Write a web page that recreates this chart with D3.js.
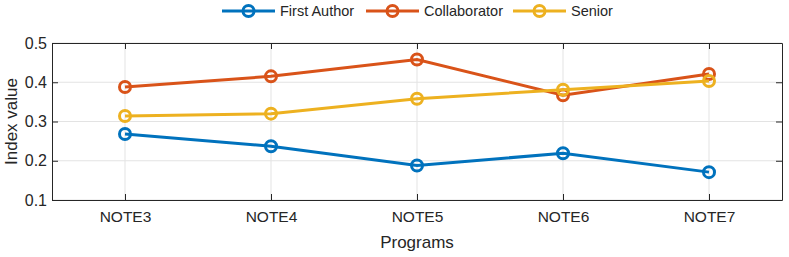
<!DOCTYPE html>
<html lang="en">
<head>
<meta charset="utf-8">
<title>Index value by program</title>
<script src="https://cdn.jsdelivr.net/npm/d3@7"></script>
<style>
  body { margin: 0; background: #fff; }
  text { font-family: "Liberation Sans", Arial, sans-serif; fill: #262626; }
</style>
</head>
<body>
<script>
// data
var programs = ["NOTE3", "NOTE4", "NOTE5", "NOTE6", "NOTE7"];
var firstAuthor = [0.268, 0.237, 0.188, 0.219, 0.171];
var collaborator = [0.388, 0.415, 0.458, 0.367, 0.421];
var senior = [0.314, 0.320, 0.358, 0.381, 0.403];
var seriesNames = ["First Author", "Collaborator", "Senior"];
var seriesColors = ["#0072BD", "#D95319", "#EDB120"];
var yTicks = [0.1, 0.2, 0.3, 0.4, 0.5];

var w = 789, h = 257;
var plotLeft = 52, plotRight = 782, plotTop = 43, plotBottom = 200;

var svg = d3.select("body").append("svg")
    .attr("width", w)
    .attr("height", h);

var xScale = d3.scaleLinear().domain([0.5, programs.length + 0.5]).range([plotLeft, plotRight]);
var yScale = d3.scaleLinear().domain([0.1, 0.5]).range([plotBottom, plotTop]);

// grid
svg.append("g").selectAll("line")
    .data(programs)
    .enter().append("line")
    .attr("x1", function(d, i) { return xScale(i + 1); })
    .attr("x2", function(d, i) { return xScale(i + 1); })
    .attr("y1", plotTop).attr("y2", plotBottom)
    .attr("stroke", "#e3e3e3").attr("stroke-width", 1);

svg.append("g").selectAll("line")
    .data(yTicks)
    .enter().append("line")
    .attr("x1", plotLeft).attr("x2", plotRight)
    .attr("y1", function(d) { return yScale(d); })
    .attr("y2", function(d) { return yScale(d); })
    .attr("stroke", "#e3e3e3").attr("stroke-width", 1);

// axes (ticks point inwards, box on all four sides)
var xAxis = d3.axisBottom(xScale)
    .tickValues([1, 2, 3, 4, 5])
    .tickFormat(function(d) { return programs[d - 1]; })
    .tickSizeInner(-6).tickSizeOuter(0).tickPadding(11);
var xAxisTop = d3.axisTop(xScale)
    .tickValues([1, 2, 3, 4, 5])
    .tickFormat("").tickSizeInner(-6).tickSizeOuter(0);
var yAxis = d3.axisLeft(yScale)
    .tickValues(yTicks)
    .tickFormat(d3.format(".1f"))
    .tickSizeInner(-6).tickSizeOuter(0).tickPadding(5);
var yAxisRight = d3.axisRight(yScale)
    .tickValues(yTicks)
    .tickFormat("").tickSizeInner(-6).tickSizeOuter(0);

function styleAxis(size) {
    return function(g) {
        g.select(".domain").attr("stroke", "#262626");
        g.selectAll(".tick line").attr("stroke", "#262626");
        g.selectAll(".tick text").attr("font-size", size).attr("fill", "#262626")
            .attr("font-family", "Liberation Sans, Arial, sans-serif");
    };
}

svg.append("g").attr("transform", "translate(0," + plotBottom + ")").call(xAxis).call(styleAxis("15.5px"));
svg.append("g").attr("transform", "translate(0," + plotTop + ")").call(xAxisTop).call(styleAxis("15.5px"));
svg.append("g").attr("transform", "translate(" + plotLeft + ",0)").call(yAxis).call(styleAxis("16px"));
svg.append("g").attr("transform", "translate(" + plotRight + ",0)").call(yAxisRight).call(styleAxis("16px"));

// axis labels
svg.append("text")
    .attr("x", (plotLeft + plotRight) / 2).attr("y", 248)
    .attr("text-anchor", "middle").attr("font-size", "17px")
    .text("Programs");
svg.append("text")
    .attr("transform", "translate(17," + ((plotTop + plotBottom) / 2) + ") rotate(-90)")
    .attr("text-anchor", "middle").attr("font-size", "17px")
    .text("Index value");

// lines
var allSeries = [firstAuthor, collaborator, senior];
var line = d3.line()
    .x(function(d, i) { return xScale(i + 1); })
    .y(function(d) { return yScale(d); });

allSeries.forEach(function(vals, k) {
    var g = svg.append("g");
    g.append("path")
        .datum(vals)
        .attr("d", line)
        .attr("fill", "none")
        .attr("stroke", seriesColors[k])
        .attr("stroke-width", 3);
    g.selectAll("circle")
        .data(vals)
        .enter().append("circle")
        .attr("cx", function(d, i) { return xScale(i + 1); })
        .attr("cy", function(d) { return yScale(d); })
        .attr("r", 5.5)
        .attr("fill", "none")
        .attr("stroke", seriesColors[k])
        .attr("stroke-width", 3);
});

// legend
var legendX = [222, 366, 513];
var legend = svg.append("g");
seriesNames.forEach(function(name, k) {
    var x0 = legendX[k], ly = 11;
    legend.append("line")
        .attr("x1", x0).attr("x2", x0 + 53)
        .attr("y1", ly).attr("y2", ly)
        .attr("stroke", seriesColors[k]).attr("stroke-width", 3);
    legend.append("circle")
        .attr("cx", x0 + 26.5).attr("cy", ly).attr("r", 5.5)
        .attr("fill", "none")
        .attr("stroke", seriesColors[k]).attr("stroke-width", 3);
    legend.append("text")
        .attr("x", x0 + 58).attr("y", ly + 5)
        .attr("font-size", "14.5px")
        .text(name);
});
</script>
</body>
</html>
